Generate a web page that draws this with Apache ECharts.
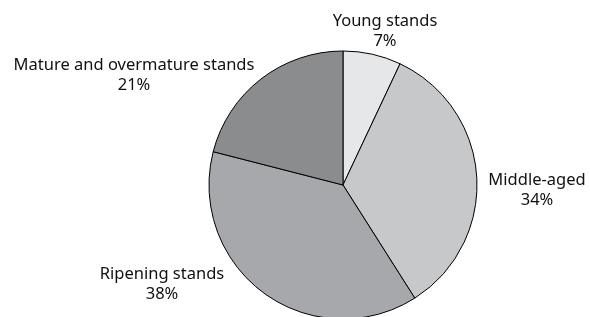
<!DOCTYPE html>
<html>
<head>
<meta charset="utf-8">
<script src="https://cdn.jsdelivr.net/npm/echarts@6/dist/echarts.min.js"></script>
<style>
  html, body { margin: 0; padding: 0; background: #fff; }
  #chart { width: 590px; height: 317px; }
</style>
</head>
<body>
<div id="chart"></div>
<script>
// stand age classes, clockwise from 12 o'clock
const categories = ['Young stands', 'Middle-aged', 'Ripening stands', 'Mature and overmature stands']
const shares = [7, 34, 38, 21]
const colors = ['#e6e7e8', '#c7c8ca', '#a7a8ab', '#8b8c8e']

// where each label sits (label centre)
const labelPos = [
  [385, 31],
  [537, 190],
  [162, 284],
  [134, 75],
]

const chart = echarts.init(document.getElementById('chart'))
chart.setOption({
  animation: false,
  series: [
    {
      type: 'pie',
      center: [343, 185],
      radius: 134,
      startAngle: 90,
      clockwise: true,
      data: categories.map((name, i) => ({
        name: name,
        value: shares[i],
        itemStyle: { color: colors[i] },
      })),
      itemStyle: { borderColor: '#000', borderWidth: 1 },
      label: {
        show: true,
        position: 'outside',
        formatter: '{b}\n{c}%',
        color: '#111',
        fontFamily: 'Noto Sans',
        fontSize: 16.5,
        lineHeight: 20,
        align: 'center',
        overflow: 'none',
        width: 300,
      },
      labelLine: { show: false },
      labelLayout: function (params) {
        const p = labelPos[params.dataIndex]
        return { x: p[0], y: p[1], align: 'center', verticalAlign: 'middle' }
      },
      emphasis: { disabled: true },
    },
  ],
})
</script>
</body>
</html>
